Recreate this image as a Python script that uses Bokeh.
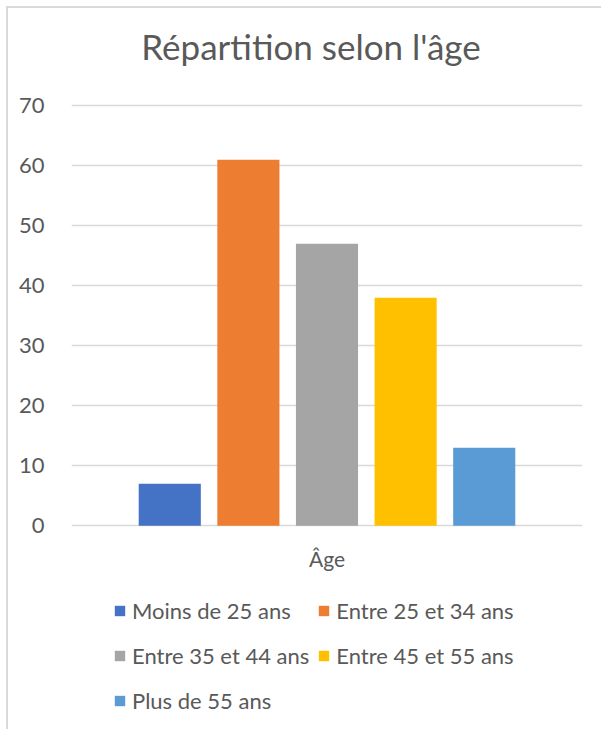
from bokeh.plotting import figure
from bokeh.models import ColumnDataSource, Legend, LegendItem, FixedTicker, Range1d, Label
from bokeh.embed import file_html
from bokeh.resources import INLINE

title_text = "Répartition selon l'âge"
group_label = "Âge"
categories = ["Moins de 25 ans", "Entre 25 et 34 ans", "Entre 35 et 44 ans",
              "Entre 45 et 55 ans", "Plus de 55 ans"]
values = [7, 61, 47, 38, 13]
colors = ["#4472C4", "#ED7D31", "#A5A5A5", "#FFC000", "#5B9BD5"]
y_ticks = [0, 10, 20, 30, 40, 50, 60, 70]

FONT = "Lato"
TXT = "#595959"
GRID = "#D9D9D9"

n = len(categories)
positions = list(range(n))
mid = (n - 1) / 2

# the frame spans the whole chart height so that the title, category label
# and legend sit inside it (value axis: 6 px per unit, 0 at page y=525)
p = figure(width=595, height=723,
           x_range=Range1d(-1.25, n - 1 + 1.25),
           y_range=Range1d(-34.3, 86.2),
           output_backend="svg", toolbar_location=None,
           min_border_left=63, min_border_right=21, min_border_top=0, min_border_bottom=0,
           margin=(6, 0, 0, 6),
           styles={"border-left": "2px solid #D9D9D9", "border-top": "2px solid #D9D9D9"})
p.outline_line_color = None
p.background_fill_color = "white"
p.border_fill_color = "white"
p.xaxis.visible = False

items = []
for i, (cat, val, col) in enumerate(zip(categories, values, colors)):
    src = ColumnDataSource(dict(x=[positions[i]], top=[val]))
    r = p.vbar(x="x", top="top", bottom=0, width=0.79, source=src, fill_color=col, line_color=None)
    items.append(LegendItem(label=cat, renderers=[r]))

p.xgrid.grid_line_color = None
p.ygrid.grid_line_color = GRID
p.ygrid.grid_line_width = 1.5
p.ygrid.ticker = FixedTicker(ticks=y_ticks)
p.ygrid.level = "underlay"

p.yaxis.ticker = FixedTicker(ticks=y_ticks)
p.yaxis.axis_line_color = None
p.yaxis.major_tick_line_color = None
p.yaxis.minor_tick_line_color = None
p.yaxis.major_label_standoff = 21
p.yaxis.major_label_text_font = FONT
p.yaxis.major_label_text_font_size = "22px"
p.yaxis.major_label_text_color = TXT

p.add_layout(Label(x=mid, y=y_ticks[-1], x_offset=-16, y_offset=60, text=title_text,
                   text_align="center", text_baseline="alphabetic",
                   text_font=FONT, text_font_size="35px", text_color=TXT))
p.add_layout(Label(x=mid, y=y_ticks[0], y_offset=-33, text=group_label,
                   text_align="center", text_baseline="alphabetic",
                   text_font=FONT, text_font_size="21px", text_color=TXT))

legend = Legend(items=items, location=(42, 12), orientation="horizontal", ncols=2,
                glyph_width=13, glyph_height=13, label_standoff=6,
                label_height=37, label_width=150, spacing=8, padding=0, margin=0,
                border_line_color=None, background_fill_alpha=0,
                label_text_font=FONT, label_text_font_size="22px", label_text_color=TXT)
p.add_layout(legend, "center")

open("out.html", "w").write(file_html(p, INLINE))
